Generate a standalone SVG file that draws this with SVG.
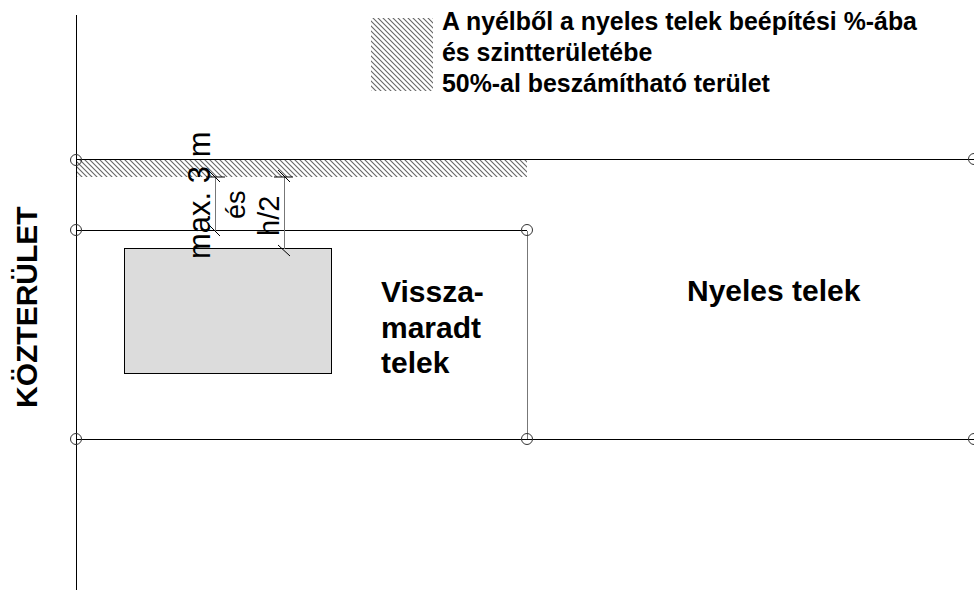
<svg xmlns="http://www.w3.org/2000/svg" width="974" height="590" viewBox="0 0 974 590">
<style>
.l{fill:none;stroke:#000;stroke-width:1}
.g{fill:none;stroke:#777;stroke-width:1}
.c{fill:none;stroke:#333;stroke-width:1}
text{font-family:"Liberation Sans",Arial,sans-serif;fill:#000}
.b{font-weight:bold}
.h{fill:url(#hatch)}
</style>
<defs>
<pattern id="hatch" width="5" height="5" patternUnits="userSpaceOnUse">
<rect width="5" height="5" fill="#fff"/>
<path d="M-1 -1L6 6M-1 4L1 6M4 -1L6 1" stroke="#666" stroke-width="1.100"/>
</pattern>
</defs>
<rect width="974" height="590" fill="#fff"/>
<g id="legend">
<rect class="h" x="371" y="18" width="62" height="73"/>
<text class="b" x="442" y="30" font-size="24.900">A nyélből a nyeles telek beépítési %-ába</text>
<text class="b" x="442" y="61" font-size="24.900">és szintterületébe</text>
<text class="b" x="442" y="92" font-size="24.900">50%-al beszámítható terület</text>
</g>
<g id="street-label"><text class="b" transform="translate(37 408) rotate(-90)" font-size="30">KÖZTERÜLET</text></g>
<g id="hatched-strip"><rect class="h" x="77" y="160" width="450" height="17"/></g>
<g id="plots">
<path class="l" d="M76.500 15V590M76.500 159.500H974M76.500 230.500H527M76.500 439.500H974"/>
<path class="g" d="M527.500 231V439"/>
</g>
<g id="building"><rect x="124.500" y="248.500" width="207" height="125" fill="#dcdcdc" stroke="#000"/></g>
<g id="connectors">
<path class="g" d="M215.500 177V231M284.500 177V249"/>
<path class="l" d="M209 171L220 182M208 224L220 236M278 170L290 182M278 245L290 256M206 177H225M274 177H293"/>
</g>
<g id="nodes">
<circle class="c" cx="76" cy="160" r="5.500"/>
<circle class="c" cx="76" cy="230" r="5.500"/>
<circle class="c" cx="76" cy="439" r="5.500"/>
<circle class="c" cx="527" cy="230" r="5.500"/>
<circle class="c" cx="527" cy="439" r="5.500"/>
<circle class="c" cx="974" cy="159" r="5.500"/>
<circle class="c" cx="974" cy="439" r="5.500"/>
</g>
<g id="dimension-labels">
<text transform="translate(210 259) rotate(-90)" font-size="31">max. 3 m</text>
<text transform="translate(245 219) rotate(-90)" font-size="27">és</text>
<text transform="translate(279 236) rotate(-90)" font-size="29">h/2</text>
</g>
<g id="plot-labels">
<text class="b" x="381" y="302" font-size="30">Vissza-</text>
<text class="b" x="381" y="338" font-size="30">maradt</text>
<text class="b" x="381" y="373" font-size="30">telek</text>
<text class="b" x="687" y="301" font-size="30">Nyeles telek</text>
</g>
</svg>
